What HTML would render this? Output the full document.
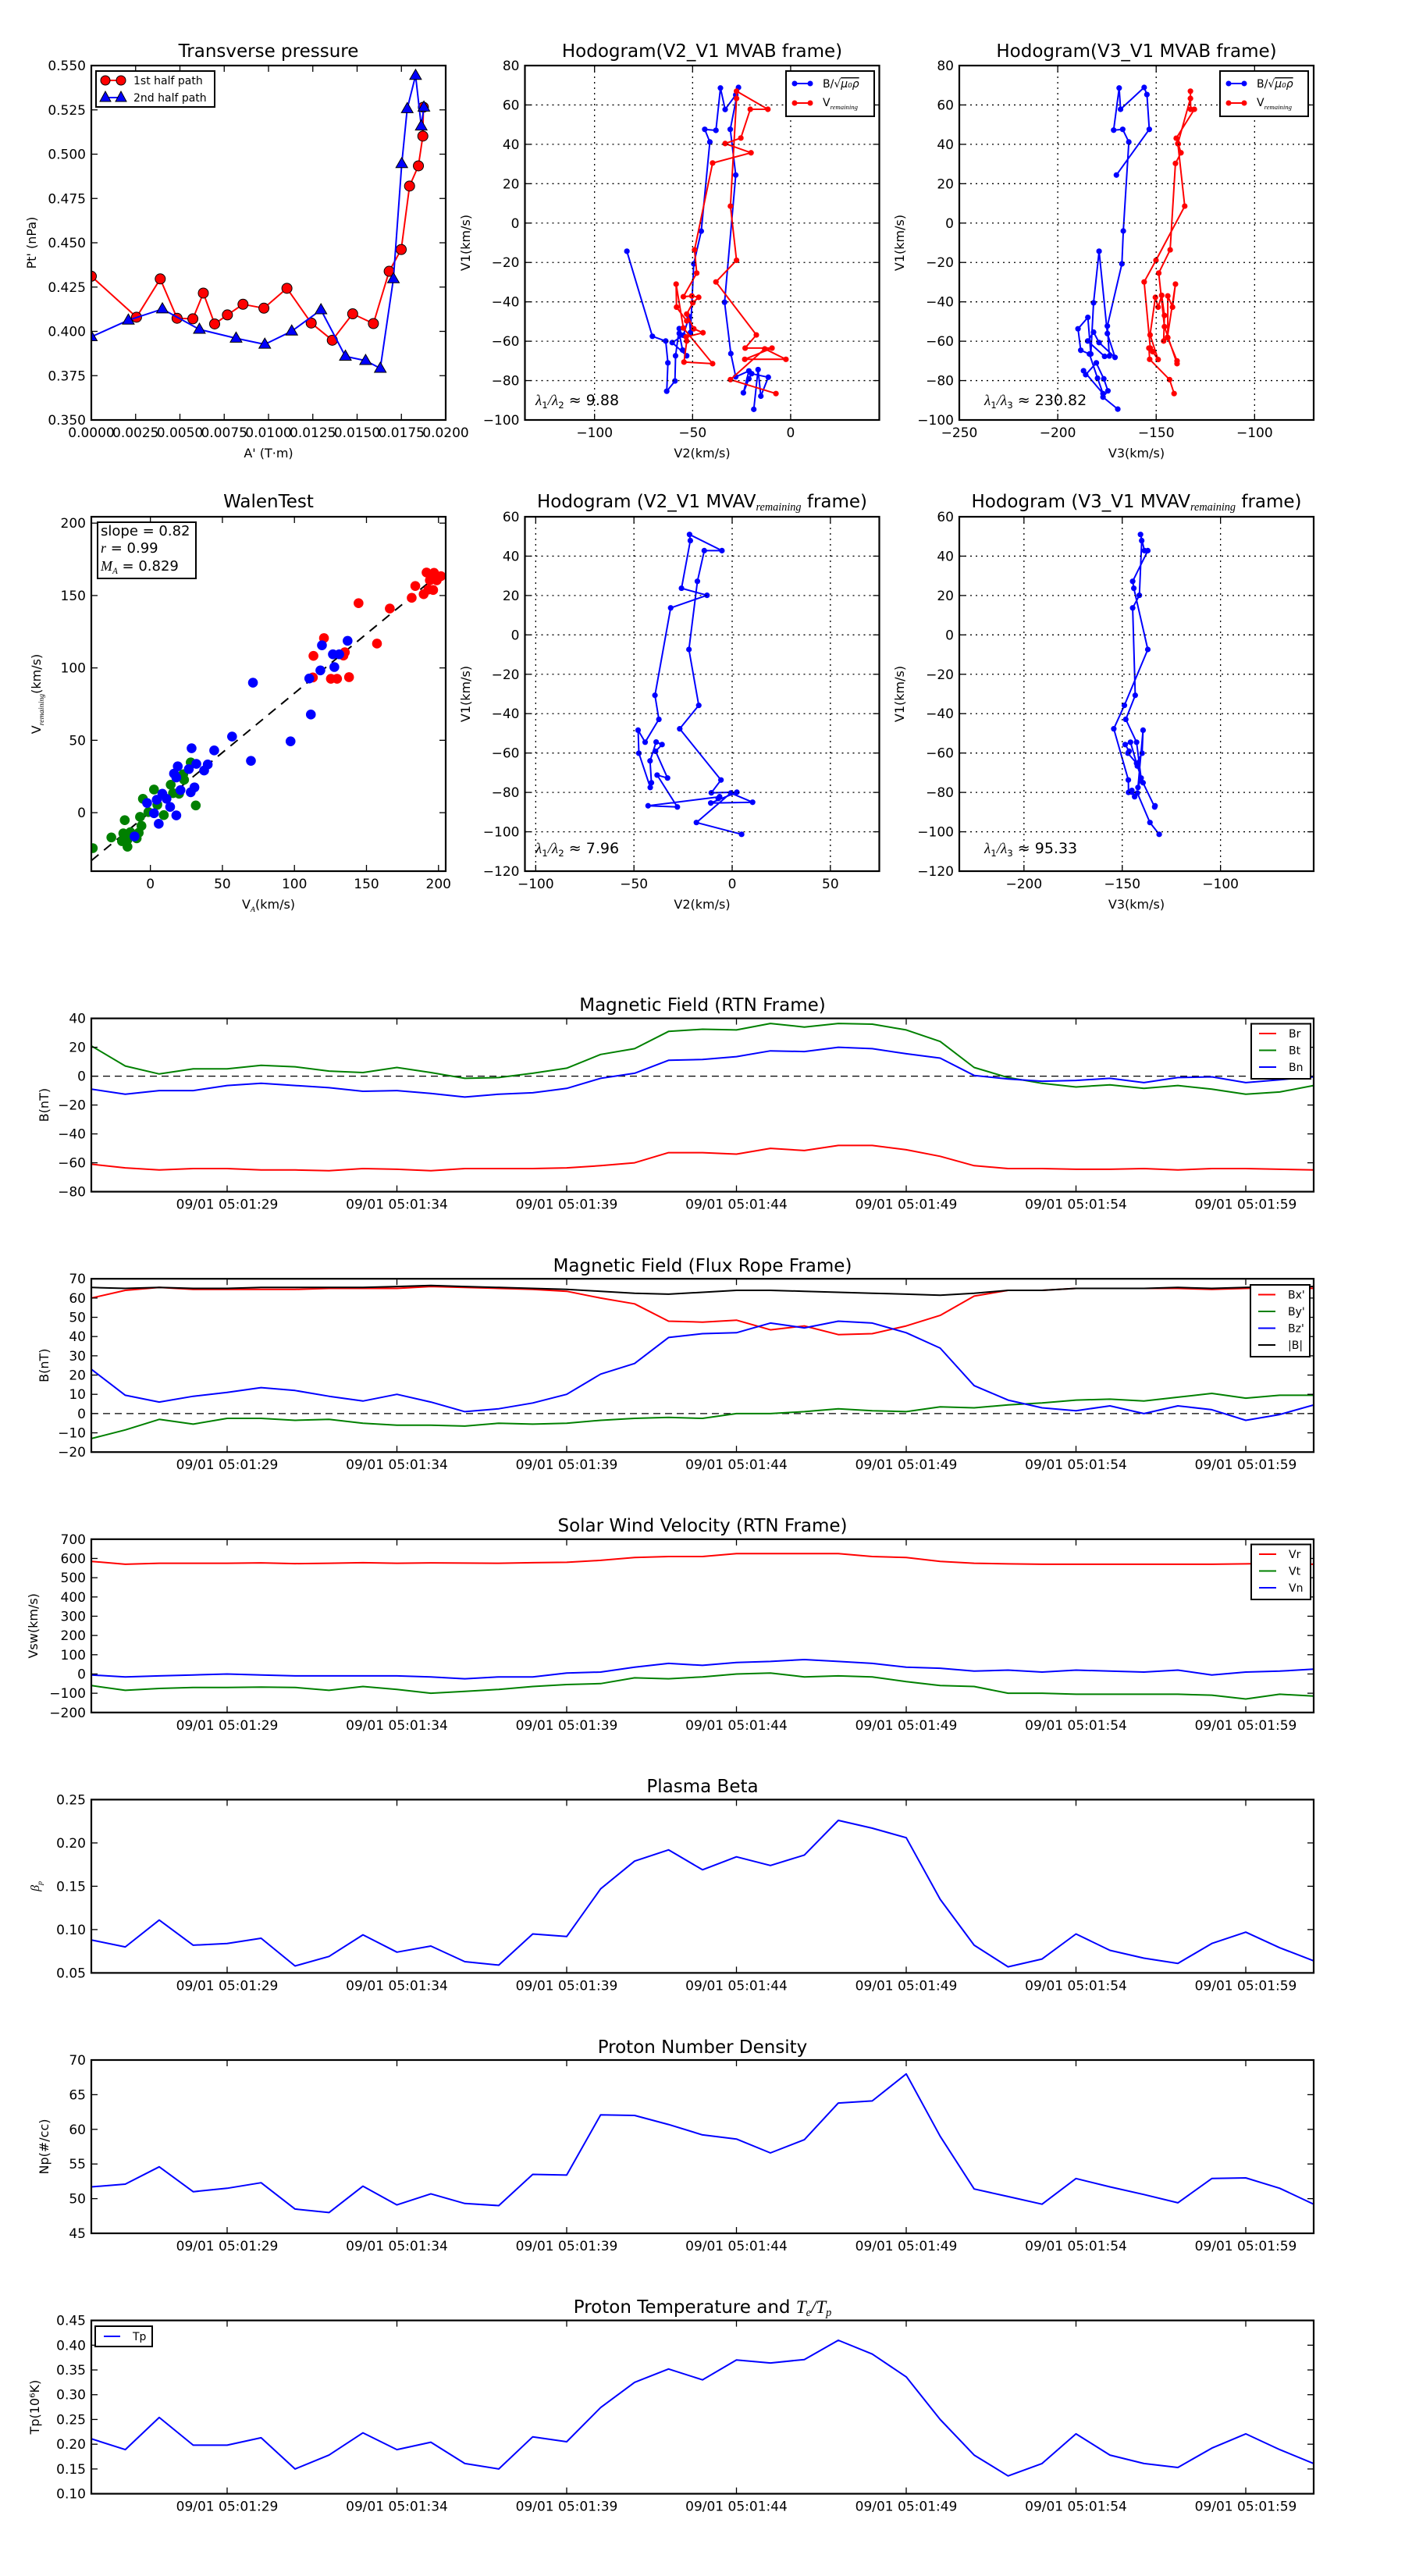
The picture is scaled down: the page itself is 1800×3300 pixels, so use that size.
<!DOCTYPE html>
<html><head><meta charset="utf-8"><title>Flux rope analysis</title>
<style>
html,body{margin:0;padding:0;background:#fff;}
svg{display:block;font-family:"DejaVu Sans","Liberation Sans",sans-serif;}
</style></head>
<body>
<svg id="fig" width="1800" height="3300" viewBox="0 0 1800 3300" xmlns="http://www.w3.org/2000/svg">
<rect x="0" y="0" width="1800" height="3300" fill="#fff"/>
</svg>
<script>
// ---------- Transverse pressure ----------
const ptRedA = [0,0.00255,0.00389,0.00484,0.00573,0.00632,0.00696,0.00768,0.00856,0.00974,0.01104,0.01241,0.01360,0.01475,0.01592,0.01681,0.01749,0.01796,0.01846,0.01871,0.01874];
const ptRedP = [0.4311,0.4080,0.4296,0.4074,0.4071,0.4216,0.4042,0.4093,0.4153,0.4131,0.4243,0.4047,0.3950,0.4099,0.4044,0.4339,0.4462,0.4820,0.4934,0.5102,0.5265];
const ptBlueA = [0,0.00209,0.00401,0.00610,0.00817,0.00979,0.01131,0.01296,0.01434,0.01548,0.01631,0.01705,0.01752,0.01783,0.01830,0.01862,0.01877];
const ptBlueP = [0.3969,0.4063,0.4126,0.4011,0.3961,0.3927,0.4001,0.4121,0.3859,0.3835,0.3791,0.4296,0.4946,0.5256,0.5444,0.5158,0.5265];
const ptXTicks = [0,0.0025,0.005,0.0075,0.01,0.0125,0.015,0.0175,0.02];
const ptYTicks = [0.35,0.375,0.4,0.425,0.45,0.475,0.5,0.525,0.55];
// ---------- Hodogram V2_V1 MVAB ----------
const h1BlueX = [-83.5,-70.5,-63.7,-62.6,-63.2,-59.0,-58.7,-56.8,-56.8,-55.1,-53.0,-60.4,-54.7,-51.8,-51.1,-49.4,-45.6,-41.2,-43.8,-38.1,-35.8,-33.4,-28.0,-26.6,-30.8,-28.0,-33.7,-30.5,-28.0,-21.3,-24.1,-21.3,-19.9,-11.4,-15.2,-16.6,-18.8];
const h1BlueY = [-14.3,-57.5,-59.9,-71.0,-85.4,-80.2,-67.4,-53.6,-56.0,-64.5,-67.4,-60.7,-57.0,-47.5,-55.6,-20.7,-4.1,41.2,47.6,47.1,68.6,57.7,65.1,68.9,47.6,24.4,-40.2,-66.3,-78.1,-75.1,-86.2,-79.1,-76.5,-78.3,-87.9,-74.4,-94.6];
const h1RedX = [-7.5,-30.7,-13.2,-2.4,-23.4,-9.5,-23.2,-17.5,-38.1,-27.6,-30.7,-27.6,-27.6,-11.6,-20.6,-25.4,-33.4,-20.2,-39.8,-49.0,-47.9,-54.7,-50.4,-46.9,-49.9,-53.0,-49.4,-44.7,-53.3,-53.0,-54.4,-39.8,-54.7,-58.4,-58.2,-53.0];
const h1RedY = [-86.6,-79.5,-63.9,-69.2,-69.2,-63.5,-63.5,-56.8,-29.9,-18.9,8.6,63.3,67.0,57.8,57.8,43.2,40.4,35.7,30.5,-13.6,-25.4,-37.4,-37.0,-37.7,-40.5,-46.2,-53.7,-55.7,-57.8,-59.9,-70.6,-71.4,-53.3,-31.0,-42.7,-49.7];
// ---------- Hodogram V3_V1 MVAB ----------
const h2BlueX = [-169.5,-177.0,-174.5,-176.6,-180.4,-185.8,-186.9,-177.0,-179.8,-183.9,-188.3,-189.7,-184.7,-183.2,-181.8,-179.0,-174.8,-170.9,-179.0,-181.8,-184.8,-176.2,-173.8,-174.8,-167.4,-166.7,-163.9,-167.0,-171.6,-168.8,-168.1,-156.1,-154.7,-153.5,-170.2];
const h2BlueY = [-94.5,-88.4,-85.2,-79.1,-71.0,-77.0,-75.0,-86.6,-78.8,-66.5,-64.6,-53.7,-47.9,-66.5,-40.5,-14.3,-56.1,-68.2,-60.7,-55.4,-59.9,-67.7,-67.5,-52.3,-20.7,-4.0,41.2,47.6,47.2,68.6,57.8,68.9,65.3,47.6,24.4];
const h2RedX = [-140.9,-143.2,-153.3,-153.7,-151.8,-149.0,-153.1,-150.4,-149.0,-147.2,-145.8,-146.2,-144.1,-144.1,-141.7,-140.2,-144.3,-139.4,-139.4,-145.8,-148.7,-142.9,-140.2,-137.4,-138.8,-139.8,-130.6,-132.5,-132.6,-132.6,-139.0,-135.5,-150.1,-156.1,-153.0];
const h2RedY = [-86.6,-79.5,-69.2,-63.5,-65.3,-69.3,-56.8,-37.7,-42.7,-36.7,-46.9,-59.9,-58.2,-37.0,-42.7,-31.0,-58.0,-70.0,-71.4,-52.6,-25.4,-13.6,30.3,35.7,40.2,43.1,57.8,57.8,67.0,63.3,40.4,8.6,-18.9,-29.9,-63.5];
// ---------- Walen test ----------
const walRedX = [191.7,196.9,201.7,194.0,198.8,183.9,181.4,189.7,196.3,193.0,144.5,166.2,120.5,157.3,113.2,135.0,134.0,112.8,125.3,129.6,137.9];
const walRedY = [165.9,165.7,163.4,160.5,160.5,156.6,148.4,150.9,153.8,154.1,144.7,141.0,120.6,116.8,108.3,110.8,108.5,93.4,92.5,92.5,93.6];
const walBlueX = [136.9,119.1,126.7,131.1,118.0,127.7,110.3,71.2,111.4,56.7,97.3,69.8,28.6,44.3,39.8,31.9,26.7,37.3,19.0,16.4,18.0,30.6,20.9,28.0,8.3,4.4,11.2,13.7,-2.3,2.5,18.0,5.8,-11.0];
const walBlueY = [118.7,115.6,109.4,109.4,98.3,100.6,92.7,89.8,67.8,52.6,49.3,35.8,44.5,43.0,33.3,33.7,30.1,29.1,32.0,27.0,24.3,17.5,15.6,14.1,13.1,8.9,9.6,4.0,6.7,-0.4,-1.9,-7.7,-16.4];
const walGreenX = [28.0,22.8,23.4,14.1,2.5,15.7,19.9,-5.2,4.8,-1.4,9.3,31.5,-7.2,-17.8,-6.2,-8.1,-13.9,-18.8,-27.1,-19.7,-15.9,-9.5,-15.9,-40.0];
const walGreenY = [34.7,26.6,22.7,19.3,16.0,13.5,13.1,9.6,5.4,0.4,-1.7,5.0,-2.9,-5.2,-9.1,-13.9,-13.5,-14.3,-17.1,-19.7,-18.7,-17.7,-23.5,-24.5];
const walSlope = [0.82];
// ---------- MVAV hodograms ----------
const h3X = [4.8,-18.2,-0.7,10.4,-10.9,2.4,-10.6,-5.7,-26.7,-17.0,-22.0,-17.7,-14.2,-5.2,-21.7,-21.3,-25.8,-12.8,-31.3,-39.3,-37.3,-44.3,-47.9,-47.5,-41.7,-41.1,-41.8,-38.7,-35.7,-39.0,-32.9,-38.2,-27.9,-42.8,-6.4,-7.1];
const h3Y = [-101.3,-95.3,-80.3,-85.0,-85.4,-79.9,-80.2,-73.7,-47.7,-35.8,-7.4,27.2,42.8,42.8,51.0,47.9,23.7,20.1,13.7,-30.7,-42.9,-54.5,-48.4,-60.1,-77.5,-75.1,-64.0,-54.4,-55.7,-59.1,-72.7,-71.2,-87.4,-86.8,-82.2,-83.1];
const h4X = [-131.2,-135.9,-142.3,-145.1,-143.7,-145.1,-146.8,-146.9,-154.3,-148.9,-137.0,-144.1,-144.7,-137.0,-138.7,-140.7,-140.1,-141.3,-144.7,-143.4,-148.2,-142.7,-140.4,-142.0,-139.4,-139.9,-142.7,-147.1,-146.5,-148.5,-145.8,-142.3,-139.4,-133.5,-133.3];
const h4Y = [-101.3,-95.3,-80.3,-79.9,-82.2,-79.0,-80.0,-73.7,-47.7,-35.8,-7.4,23.7,27.2,42.8,42.8,51.0,47.9,20.1,13.7,-30.7,-42.9,-54.5,-72.7,-77.5,-48.4,-60.1,-65.2,-60.1,-59.1,-55.7,-54.5,-66.6,-75.1,-87.4,-86.8];
// ---------- Time series (seconds after 05:01:00) ----------
const seconds = [25,26,27,28,29,30,31,32,33,34,35,36,37,38,39,40,41,42,43,44,45,46,47,48,49,50,51,52,53,54,55,56,57,58,59,60,61];
const timeTicks = [29,34,39,44,49,54,59];
const timeTickLabels = ["09/01 05:01:29","09/01 05:01:34","09/01 05:01:39","09/01 05:01:44","09/01 05:01:49","09/01 05:01:54","09/01 05:01:59"];
const Br = [-61,-63.5,-65,-64,-64,-65,-65,-65.5,-64,-64.5,-65.5,-64,-64,-64,-63.5,-62,-60,-53,-53,-54,-50,-51.5,-48,-48,-51,-55.5,-62,-64,-64,-64.5,-64.5,-64,-65,-64,-64,-64.5,-65];
const Bt = [21,7,1.5,5,5,7.5,6.5,3.5,2.5,6,2.5,-1.5,-1,2,5.5,15,19,31,32.5,32,36.5,34,36.5,36,32,24,6,-1,-5,-7.5,-6,-8.5,-6.5,-9,-12.5,-11,-6.5];
const Bn = [-9,-12.5,-10,-10,-6.5,-5,-6.5,-8,-10.5,-10,-12,-14.5,-12.5,-11.5,-8.5,-1.5,2,11,11.5,13.5,17.5,17,20,19,15.5,12.5,0.5,-2,-3.5,-3,-1.5,-4.5,-1,-0.5,-4.5,-2.5,-0.5];
const Bx = [60,64,65.5,64.5,64.5,64.5,64.5,65,65,65,66,65.5,65,64.5,63.5,60,57,48,47.5,48.5,43.5,45.5,41,41.5,45.5,51,61,64,64,65,65,65,65,64.5,65,65.5,65];
const By = [-13,-8.5,-3,-5.5,-2.5,-2.5,-3.5,-3,-5,-6,-6,-6.5,-5,-5.5,-5,-3.5,-2.5,-2,-2.5,0,0,1,2.5,1.5,1,3.5,3,4.5,5.5,7,7.5,6.5,8.5,10.5,8,9.5,9.5];
const Bz = [23,9.5,6,9,11,13.5,12,9,6.5,10,6,1,2.5,5.5,10,20.5,26,39.5,41.5,42,47,44.5,48,47,42,34,14.5,7,3,1.5,4,0,4,2,-3.5,-0.5,4.5];
const Bmag = [65.5,65,65.5,65,65,65.5,65.5,65.5,65.5,66,66.5,66,65.5,65,64.5,63.5,62.5,62,63,64,64,63.5,63,62.5,62,61.5,62.5,64,64,65,65,65,65.5,65,65.5,66,66];
const Vr = [585,570,575,575,575,577,573,575,578,575,577,576,575,578,580,590,605,610,610,625,625,625,625,610,605,585,575,572,570,570,570,570,570,570,572,575,570];
const Vt = [-60,-85,-75,-70,-70,-68,-70,-85,-65,-80,-100,-90,-80,-65,-55,-50,-20,-25,-15,0,5,-15,-10,-15,-40,-60,-65,-100,-100,-105,-105,-105,-105,-110,-130,-105,-115];
const Vn = [-5,-15,-10,-5,0,-5,-10,-10,-10,-10,-15,-25,-15,-15,5,10,35,55,45,60,65,75,65,55,35,30,15,20,10,20,15,10,20,-5,10,15,25];
const beta = [0.088,0.080,0.111,0.082,0.084,0.090,0.058,0.069,0.094,0.074,0.081,0.063,0.059,0.095,0.092,0.147,0.179,0.192,0.169,0.184,0.174,0.186,0.226,0.217,0.206,0.135,0.082,0.057,0.066,0.095,0.076,0.067,0.061,0.084,0.097,0.079,0.064];
const Np = [51.7,52.1,54.6,51.0,51.5,52.3,48.5,48.0,51.8,49.1,50.7,49.3,49.0,53.5,53.4,62.1,62.0,60.7,59.2,58.6,56.6,58.5,63.8,64.1,68.0,59.0,51.4,50.3,49.2,52.9,51.7,50.6,49.4,52.9,53.0,51.5,49.2];
const Tp = [0.211,0.189,0.254,0.198,0.198,0.213,0.150,0.178,0.223,0.189,0.204,0.161,0.150,0.215,0.205,0.274,0.325,0.352,0.330,0.370,0.364,0.371,0.410,0.382,0.336,0.250,0.178,0.136,0.161,0.221,0.178,0.161,0.153,0.192,0.221,0.189,0.161];

const NS = "http://www.w3.org/2000/svg";
const svg = document.getElementById('fig');
let clipId = 0;
function el(tag, attrs, parent){
  const e = document.createElementNS(NS, tag);
  for (const k in attrs) e.setAttribute(k, attrs[k]);
  (parent || svg).appendChild(e);
  return e;
}
function txt(x, y, s, size, anchor, parent, extra){
  const t = el('text', Object.assign({x:x, y:y, 'font-size':size, 'text-anchor':anchor||'start', fill:'#000'}, extra||{}), parent);
  t.textContent = s;
  return t;
}
function makeAxes(name, x0, y0, w, h, xmin, xmax, ymin, ymax){
  const g = el('g', {});
  
  
  clipId++;
  const cp = el('clipPath', {id:'clip'+clipId}, g);
  el('rect', {x:x0, y:y0, width:w, height:h}, cp);
  const data = el('g', {'clip-path':'url(#clip'+clipId+')'}, g);
  
  
  return {g:g, data:data, x0:x0, y0:y0, w:w, h:h,
    sx: v => x0 + (v - xmin) / (xmax - xmin) * w,
    sy: v => y0 + h - (v - ymin) / (ymax - ymin) * h};
}
function frame(ax, xt, xl, yt, yl, grid, fs){
  fs = fs || 17;
  const g = el('g', {}, ax.g);
  
  
  xt.forEach((v, i) => {
    const x = ax.sx(v);
    if (grid) {
      const gl = el('line', {x1:x, x2:x, y1:ax.y0, y2:ax.y0+ax.h, stroke:'#000', 'stroke-width':1.3, 'stroke-dasharray':'2,5'}, g);
      
    }
    const t1 = el('line', {x1:x, x2:x, y1:ax.y0+ax.h, y2:ax.y0+ax.h-8, stroke:'#000', 'stroke-width':1.3}, g);
    
    const t2 = el('line', {x1:x, x2:x, y1:ax.y0, y2:ax.y0+8, stroke:'#000', 'stroke-width':1.3}, g);
    
    const lab = txt(x, ax.y0+ax.h+22, xl[i], fs, 'middle', g);
    
    
  });
  yt.forEach((v, i) => {
    const y = ax.sy(v);
    if (grid) {
      const gl = el('line', {x1:ax.x0, x2:ax.x0+ax.w, y1:y, y2:y, stroke:'#000', 'stroke-width':1.3, 'stroke-dasharray':'2,5'}, g);
      
    }
    const t1 = el('line', {x1:ax.x0, x2:ax.x0+8, y1:y, y2:y, stroke:'#000', 'stroke-width':1.3}, g);
    
    const t2 = el('line', {x1:ax.x0+ax.w, x2:ax.x0+ax.w-8, y1:y, y2:y, stroke:'#000', 'stroke-width':1.3}, g);
    
    const lab = txt(ax.x0-7, y+6, yl[i], fs, 'end', g);
    
    
  });
}
function border(ax){
  const r = el('rect', {x:ax.x0, y:ax.y0, width:ax.w, height:ax.h, fill:'none', stroke:'#000', 'stroke-width':2.2}, ax.g);
  
  
}
function poly(ax, xs, ys, color, width, name){
  const pts = xs.map((x, i) => ax.sx(x).toFixed(1) + ',' + ax.sy(ys[i]).toFixed(1)).join(' ');
  const p = el('polyline', {points:pts, fill:'none', stroke:color, 'stroke-width':width||2, 'stroke-linejoin':'round'}, ax.data);
  
  
  return p;
}
function dots(ax, xs, ys, color, r, name, strokeC){
  xs.forEach((x, i) => {
    const c = el('circle', {cx:ax.sx(x), cy:ax.sy(ys[i]), r:r, fill:color, stroke:strokeC||'none', 'stroke-width':strokeC?1:0}, ax.data);
    
    
  });
}
function title(ax, s, y){
  const t = txt(ax.x0+ax.w/2, y, s, 23, 'middle', ax.g);
  
  
  return t;
}
function xlabel(ax, s, y){
  const t = txt(ax.x0+ax.w/2, y, s, 16, 'middle', ax.g);
  
  
  return t;
}
function ylabel(ax, s, x){
  const cy = ax.y0 + ax.h/2;
  const t = txt(x, cy, s, 16, 'middle', ax.g, {transform:'rotate(-90 '+x+' '+cy+')'});
  
  
  return t;
}
function addSub(t, sub, italic){
  const ts = document.createElementNS(NS, 'tspan');
  ts.setAttribute('font-size', '0.62em');
  ts.setAttribute('dy', '4');
  if (italic) { ts.setAttribute('font-style', 'italic'); ts.setAttribute('font-family', '"Liberation Serif",serif'); }
  ts.textContent = sub;
  t.appendChild(ts);
  return ts;
}
function addSpan(t, s, dy){
  const ts = document.createElementNS(NS, 'tspan');
  if (dy) ts.setAttribute('dy', dy);
  ts.textContent = s;
  t.appendChild(ts);
  return ts;
}
function fmt(v, d){ return v < 0 ? '\u2212' + Math.abs(v).toFixed(d) : v.toFixed(d); }

// ===== Panel 1: Transverse pressure =====
const ax1 = makeAxes('transverse-pressure-chart', 117, 84, 454, 454, 0, 0.02, 0.35, 0.55);
frame(ax1, ptXTicks, ptXTicks.map(v => v.toFixed(4)), ptYTicks, ptYTicks.map(v => v.toFixed(3)), false);
poly(ax1, ptRedA, ptRedP, '#ff0000', 2, 'first-half-path-line');
dots(ax1, ptRedA, ptRedP, '#ff0000', 6.5, 'first-half-path-marker', '#000');
poly(ax1, ptBlueA, ptBlueP, '#0000ff', 2, 'second-half-path-line');
ptBlueA.forEach((a, i) => {
  const x = ax1.sx(a), y = ax1.sy(ptBlueP[i]);
  const tri = el('polygon', {points:`${x},${y-8} ${x-7.5},${y+5} ${x+7.5},${y+5}`, fill:'#0000ff', stroke:'#000', 'stroke-width':1}, ax1.data);
  
  
});
border(ax1);
title(ax1, 'Transverse pressure', 73);
xlabel(ax1, "A' (T\u00b7m)", 586);
ylabel(ax1, "Pt' (nPa)", 46);
{
  const lg = el('g', {}, ax1.g);
  
  
  const b = el('rect', {x:123, y:91, width:152, height:46, fill:'#fff', stroke:'#000', 'stroke-width':2}, lg);
  
  const l1 = el('line', {x1:135, x2:155, y1:103, y2:103, stroke:'#ff0000', 'stroke-width':2}, lg);
  
  [135,155].forEach(x => { const c = el('circle', {cx:x, cy:103, r:6, fill:'#ff0000', stroke:'#000', 'stroke-width':1}, lg);  });
  const t1 = txt(171, 108, '1st half path', 14, 'start', lg);
  
  const l2 = el('line', {x1:135, x2:155, y1:125, y2:125, stroke:'#0000ff', 'stroke-width':2}, lg);
  
  [135,155].forEach(x => { const p = el('polygon', {points:`${x},117 ${x-7},130 ${x+7},130`, fill:'#0000ff', stroke:'#000', 'stroke-width':1}, lg);  });
  const t2 = txt(171, 130, '2nd half path', 14, 'start', lg);
  
}

// hodogram legend helper
function hodoLegend(ax, bx, by){
  const lg = el('g', {}, ax.g);
  
  
  const b = el('rect', {x:bx, y:by, width:113, height:58, fill:'#fff', stroke:'#000', 'stroke-width':2}, lg);
  
  const l1 = el('line', {x1:bx+11, x2:bx+31, y1:by+16, y2:by+16, stroke:'#0000ff', 'stroke-width':2}, lg);
  
  [bx+11, bx+31].forEach(x => { const c = el('circle', {cx:x, cy:by+16, r:3.5, fill:'#0000ff'}, lg);  });
  const t1 = txt(bx+47, by+21, 'B/\u221a', 14, 'start', lg);
  
  const sp = addSpan(t1, '\u03bc\u2080\u03c1');
  sp.setAttribute('font-style', 'italic');
  sp.setAttribute('text-decoration', 'overline');
  const l2 = el('line', {x1:bx+11, x2:bx+31, y1:by+41, y2:by+41, stroke:'#ff0000', 'stroke-width':2}, lg);
  
  [bx+11, bx+31].forEach(x => { const c = el('circle', {cx:x, cy:by+41, r:3.5, fill:'#ff0000'}, lg);  });
  const t2 = txt(bx+47, by+45, 'V', 14, 'start', lg);
  
  addSub(t2, 'remaining', true);
}
function lambdaText(ax, x, y, a, b, val){
  const t = txt(x, y, '', 19, 'start', ax.g);
  
  
  const s1 = addSpan(t, '\u03bb');
  s1.setAttribute('font-style', 'italic'); s1.setAttribute('font-family', '"Liberation Serif",serif');
  addSub(t, a, false);
  const s3 = addSpan(t, '/\u03bb', '-4');
  s3.setAttribute('font-style', 'italic'); s3.setAttribute('font-family', '"Liberation Serif",serif');
  addSub(t, b, false);
  addSpan(t, ' \u2248 ' + val, '-4');
}
const ticksY1 = [-100,-80,-60,-40,-20,0,20,40,60,80];

// ===== Panel 2: Hodogram V2_V1 MVAB =====
const ax2 = makeAxes('hodogram-v2-v1-mvab-chart', 672.5, 84, 454, 454, -135.5, 45.2, -100, 80);
frame(ax2, [-100,-50,0], [-100,-50,0].map(v => fmt(v,0)), ticksY1, ticksY1.map(v => fmt(v,0)), true);
poly(ax2, h1BlueX, h1BlueY, '#0000ff', 2, 'b-field-hodogram-line');
dots(ax2, h1BlueX, h1BlueY, '#0000ff', 3.6, 'b-field-hodogram-point');
poly(ax2, h1RedX, h1RedY, '#ff0000', 2, 'v-remaining-hodogram-line');
dots(ax2, h1RedX, h1RedY, '#ff0000', 3.6, 'v-remaining-hodogram-point');
border(ax2);
title(ax2, 'Hodogram(V2_V1 MVAB frame)', 73);
xlabel(ax2, 'V2(km/s)', 586);
ylabel(ax2, 'V1(km/s)', 602);
hodoLegend(ax2, 1007, 91);
lambdaText(ax2, 686, 519, '1', '2', '9.88');

// ===== Panel 3: Hodogram V3_V1 MVAB =====
const ax3 = makeAxes('hodogram-v3-v1-mvab-chart', 1229, 84, 454, 454, -250, -70, -100, 80);
frame(ax3, [-250,-200,-150,-100], [-250,-200,-150,-100].map(v => fmt(v,0)), ticksY1, ticksY1.map(v => fmt(v,0)), true);
poly(ax3, h2BlueX, h2BlueY, '#0000ff', 2, 'b-field-hodogram-line');
dots(ax3, h2BlueX, h2BlueY, '#0000ff', 3.6, 'b-field-hodogram-point');
poly(ax3, h2RedX, h2RedY, '#ff0000', 2, 'v-remaining-hodogram-line');
dots(ax3, h2RedX, h2RedY, '#ff0000', 3.6, 'v-remaining-hodogram-point');
border(ax3);
title(ax3, 'Hodogram(V3_V1 MVAB frame)', 73);
xlabel(ax3, 'V3(km/s)', 586);
ylabel(ax3, 'V1(km/s)', 1158);
hodoLegend(ax3, 1563, 91);
lambdaText(ax3, 1261, 519, '1', '3', '230.82');

// ===== Panel 4: Walen test =====
const ax4 = makeAxes('walen-test-chart', 117, 662, 454, 454, -41, 205, -40.4, 204.4);
frame(ax4, [0,50,100,150,200], ['0','50','100','150','200'], [0,50,100,150,200], ['0','50','100','150','200'], false);
{
  const xa = -41, xb = 205;
  const fit = el('line', {x1:ax4.sx(xa), y1:ax4.sy(walSlope[0]*xa+0.5), x2:ax4.sx(xb), y2:ax4.sy(walSlope[0]*xb+0.5), stroke:'#000', 'stroke-width':2, 'stroke-dasharray':'12,9'}, ax4.data);
  
  
}
dots(ax4, walRedX, walRedY, '#ff0000', 6.3, 'walen-point-red');
dots(ax4, walGreenX, walGreenY, '#008000', 6.3, 'walen-point-green');
dots(ax4, walBlueX, walBlueY, '#0000ff', 6.3, 'walen-point-blue');
border(ax4);
title(ax4, 'WalenTest', 650);
{
  const t = txt(ax4.x0+ax4.w/2, 1164, 'V', 16, 'middle', ax4.g);
  
  
  addSub(t, 'A', true);
  addSpan(t, '(km/s)', '-4');
  const cx = 52, cy = ax4.y0 + ax4.h/2;
  const ty = txt(cx, cy, 'V', 16, 'middle', ax4.g, {transform:'rotate(-90 '+cx+' '+cy+')'});
  
  
  addSub(ty, 'remaining', true);
  addSpan(ty, '(km/s)', '-4');
  const bg = el('g', {}, ax4.g);
  
  
  const r = el('rect', {x:125, y:669, width:126, height:72, fill:'#fff', stroke:'#000', 'stroke-width':2}, bg);
  
  const s1 = txt(129, 686, 'slope = 0.82', 18, 'start', bg);
  
  const s2 = txt(129, 708, '', 18, 'start', bg);
  
  const sr = addSpan(s2, 'r'); sr.setAttribute('font-style', 'italic'); sr.setAttribute('font-family', '"Liberation Serif",serif');
  addSpan(s2, ' = 0.99');
  const s3 = txt(129, 731, '', 18, 'start', bg);
  
  const sm = addSpan(s3, 'M'); sm.setAttribute('font-style', 'italic'); sm.setAttribute('font-family', '"Liberation Serif",serif');
  addSub(s3, 'A', true);
  addSpan(s3, ' = 0.829', '-4');
}

// ===== Panel 5: MVAV V2_V1 =====
const ticksY2 = [-120,-100,-80,-60,-40,-20,0,20,40,60];
const ax5 = makeAxes('hodogram-v2-v1-mvav-chart', 672.5, 662, 454, 454, -105.5, 74.9, -120, 60);
frame(ax5, [-100,-50,0,50], [-100,-50,0,50].map(v => fmt(v,0)), ticksY2, ticksY2.map(v => fmt(v,0)), true);
poly(ax5, h3X, h3Y, '#0000ff', 2, 'mvav-hodogram-line');
dots(ax5, h3X, h3Y, '#0000ff', 3.6, 'mvav-hodogram-point');
border(ax5);
{
  const t = title(ax5, 'Hodogram (V2_V1 MVAV', 650);
  addSub(t, 'remaining', true);
  addSpan(t, ' frame)', '-4');
}
xlabel(ax5, 'V2(km/s)', 1164);
ylabel(ax5, 'V1(km/s)', 602);
lambdaText(ax5, 686, 1093, '1', '2', '7.96');

// ===== Panel 6: MVAV V3_V1 =====
const ax6 = makeAxes('hodogram-v3-v1-mvav-chart', 1229, 662, 454, 454, -232.9, -52.6, -120, 60);
frame(ax6, [-200,-150,-100], [-200,-150,-100].map(v => fmt(v,0)), ticksY2, ticksY2.map(v => fmt(v,0)), true);
poly(ax6, h4X, h4Y, '#0000ff', 2, 'mvav-hodogram-line');
dots(ax6, h4X, h4Y, '#0000ff', 3.6, 'mvav-hodogram-point');
border(ax6);
{
  const t = title(ax6, 'Hodogram (V3_V1 MVAV', 650);
  addSub(t, 'remaining', true);
  addSpan(t, ' frame)', '-4');
}
xlabel(ax6, 'V3(km/s)', 1164);
ylabel(ax6, 'V1(km/s)', 1158);
lambdaText(ax6, 1261, 1093, '1', '3', '95.33');

// ===== Time series panels =====
function tsPanel(name, top, ymin, ymax, yticks, dec){
  const ax = makeAxes(name, 117, top, 1566, 222, 25, 61, ymin, ymax);
  frame(ax, timeTicks, timeTickLabels, yticks, yticks.map(v => fmt(v, dec)), false);
  return ax;
}
function zeroLine(ax){
  const z = el('line', {x1:ax.x0, x2:ax.x0+ax.w, y1:ax.sy(0), y2:ax.sy(0), stroke:'#000', 'stroke-width':1.3, 'stroke-dasharray':'9,6'}, ax.data);
  
  
}
function tsLegend(ax, x, y, entries){
  const lg = el('g', {}, ax.g);
  
  
  const b = el('rect', {x:x, y:y, width:76, height:entries.length*21.5+6, fill:'#fff', stroke:'#000', 'stroke-width':2}, lg);
  
  entries.forEach((e, i) => {
    const cy = y + 12.5 + i*21.5;
    const l = el('line', {x1:x+10, x2:x+32, y1:cy, y2:cy, stroke:e[1], 'stroke-width':2}, lg);
    
    const t = txt(x+48, cy+5, e[0], 14, 'start', lg);
    
  });
}
// RTN field
const axB = tsPanel('magnetic-field-rtn-chart', 1304.6, -80, 40, [-80,-60,-40,-20,0,20,40], 0);
zeroLine(axB);
poly(axB, seconds, Br, '#ff0000', 2, 'br-line');
poly(axB, seconds, Bt, '#008000', 2, 'bt-line');
poly(axB, seconds, Bn, '#0000ff', 2, 'bn-line');
border(axB);
title(axB, 'Magnetic Field (RTN Frame)', 1295);
ylabel(axB, 'B(nT)', 62);
tsLegend(axB, 1603, 1311.5, [['Br','#ff0000'],['Bt','#008000'],['Bn','#0000ff']]);
// Flux rope frame
const axF = tsPanel('magnetic-field-flux-rope-chart', 1638.2, -20, 70, [-20,-10,0,10,20,30,40,50,60,70], 0);
zeroLine(axF);
poly(axF, seconds, Bx, '#ff0000', 2, 'bx-prime-line');
poly(axF, seconds, By, '#008000', 2, 'by-prime-line');
poly(axF, seconds, Bz, '#0000ff', 2, 'bz-prime-line');
poly(axF, seconds, Bmag, '#000000', 2, 'b-magnitude-line');
border(axF);
title(axF, 'Magnetic Field (Flux Rope Frame)', 1629);
ylabel(axF, 'B(nT)', 62);
tsLegend(axF, 1602, 1646, [["Bx'",'#ff0000'],["By'",'#008000'],["Bz'",'#0000ff'],['|B|','#000000']]);
// Velocity
const axV = tsPanel('solar-wind-velocity-chart', 1971.8, -200, 700, [-200,-100,0,100,200,300,400,500,600,700], 0);
poly(axV, seconds, Vr, '#ff0000', 2, 'vr-line');
poly(axV, seconds, Vt, '#008000', 2, 'vt-line');
poly(axV, seconds, Vn, '#0000ff', 2, 'vn-line');
border(axV);
title(axV, 'Solar Wind Velocity (RTN Frame)', 1962);
ylabel(axV, 'Vsw(km/s)', 48);
tsLegend(axV, 1603, 1978.5, [['Vr','#ff0000'],['Vt','#008000'],['Vn','#0000ff']]);
// Beta
const axBeta = tsPanel('plasma-beta-chart', 2305.4, 0.05, 0.25, [0.05,0.10,0.15,0.20,0.25], 2);
poly(axBeta, seconds, beta, '#0000ff', 2, 'beta-line');
border(axBeta);
title(axBeta, 'Plasma Beta', 2296);
{
  const t = ylabel(axBeta, '\u03b2', 50);
  t.setAttribute('font-style', 'italic');
  t.setAttribute('font-family', '"Liberation Serif",serif');
  addSub(t, 'p', true);
}
// Density
const axN = tsPanel('proton-density-chart', 2639, 45, 70, [45,50,55,60,65,70], 0);
poly(axN, seconds, Np, '#0000ff', 2, 'np-line');
border(axN);
title(axN, 'Proton Number Density', 2630);
ylabel(axN, 'Np(#/cc)', 62);
// Temperature
const axT = tsPanel('proton-temperature-chart', 2972.6, 0.10, 0.45, [0.10,0.15,0.20,0.25,0.30,0.35,0.40,0.45], 2);
poly(axT, seconds, Tp, '#0000ff', 2, 'tp-line');
border(axT);
{
  const t = title(axT, 'Proton Temperature and ', 2963);
  const a = addSpan(t, 'T'); a.setAttribute('font-style', 'italic'); a.setAttribute('font-family', '"Liberation Serif",serif');
  addSub(t, 'e', true);
  const b = addSpan(t, '/T', '-4'); b.setAttribute('font-style', 'italic'); b.setAttribute('font-family', '"Liberation Serif",serif');
  addSub(t, 'p', true);
}
ylabel(axT, 'Tp(10\u2076K)', 50);
{
  const lg = el('g', {}, axT.g);
  
  
  const b = el('rect', {x:122, y:2980, width:73, height:26, fill:'#fff', stroke:'#000', 'stroke-width':2}, lg);
  
  const l = el('line', {x1:133, x2:154, y1:2993, y2:2993, stroke:'#0000ff', 'stroke-width':2}, lg);
  
  const t = txt(170, 2998, 'Tp', 14, 'start', lg);
  
}
</script>
</body></html>
